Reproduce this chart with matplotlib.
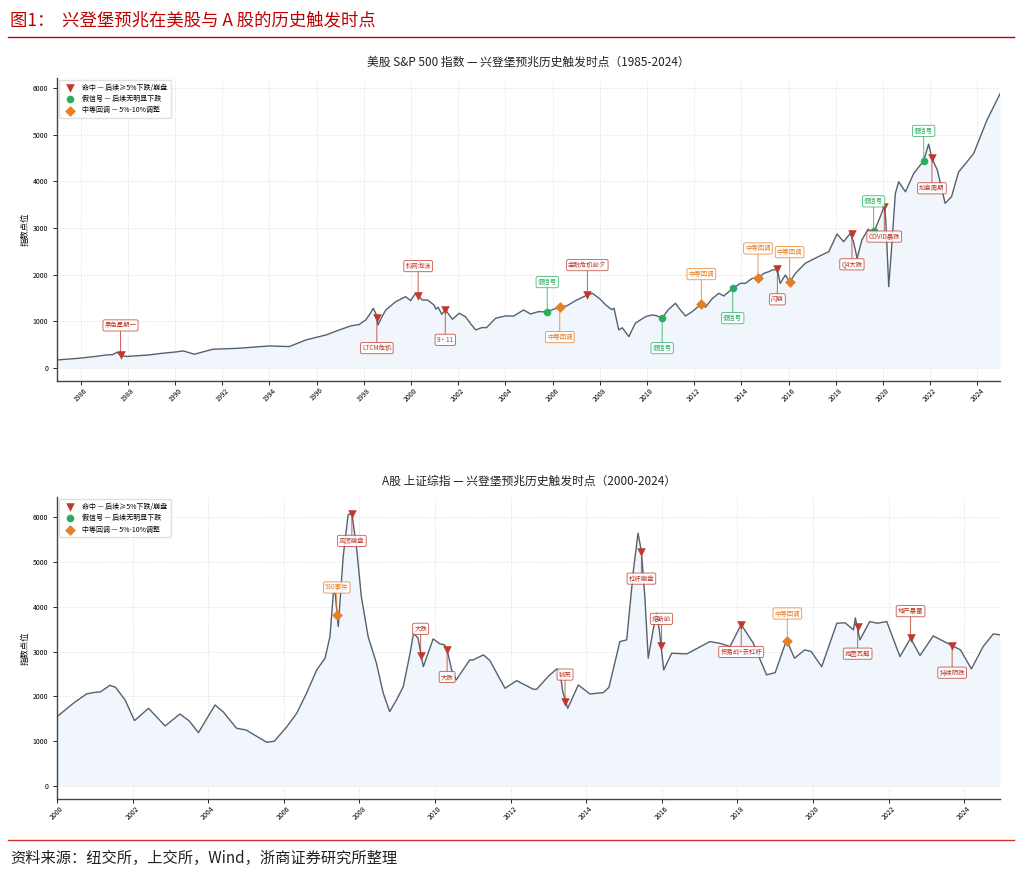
import matplotlib
matplotlib.use("Agg")
import matplotlib.pyplot as plt
from matplotlib.lines import Line2D

plt.rcParams['font.family'] = ['Noto Sans CJK SC', 'DejaVu Sans']
plt.rcParams['axes.unicode_minus'] = False

# --- S&P 500 curve ---
spx_year = [1985.0, 1985.96, 1986.6, 1987.1, 1987.35, 1987.55, 1987.7, 1987.95, 1988.9, 1989.4,
            1990.0, 1990.35, 1990.82, 1991.6, 1992.7, 1994.0, 1994.84, 1995.55, 1996.4, 1996.96,
            1997.45, 1997.8, 1998.08, 1998.25, 1998.4, 1998.52, 1998.6, 1998.75, 1998.93, 1999.35,
            1999.77, 1999.98, 2000.17, 2000.3, 2000.48, 2000.7, 2000.97, 2001.05, 2001.15, 2001.3,
            2001.45, 2001.6, 2001.75, 2002.04, 2002.3, 2002.55, 2002.74, 2003.0, 2003.2, 2003.58,
            2004.0, 2004.35, 2004.77, 2005.06, 2005.4, 2005.77, 2006.05, 2006.3, 2006.6, 2007.0,
            2007.47, 2007.68, 2008.0, 2008.25, 2008.5, 2008.6, 2008.8, 2008.95, 2009.23, 2009.5,
            2009.94, 2010.22, 2010.4, 2010.64, 2010.9, 2011.2, 2011.4, 2011.63, 2011.91, 2012.3,
            2012.47, 2012.75, 2013.04, 2013.25, 2013.63, 2013.96, 2014.17, 2014.45, 2014.7, 2014.95,
            2015.16, 2015.3, 2015.52, 2015.64, 2015.86, 2016.04, 2016.29, 2016.7, 2017.26, 2017.7,
            2018.05, 2018.33, 2018.61, 2018.75, 2018.9, 2019.1, 2019.36, 2019.61, 2019.88, 2020.07,
            2020.13, 2020.24, 2020.35, 2020.52, 2020.66, 2020.95, 2021.3, 2021.72, 2021.93, 2022.07,
            2022.3, 2022.63, 2022.9, 2023.2, 2023.5, 2023.84, 2024.4, 2024.96]
spx_value = [170, 208, 245, 278, 285, 335, 265, 245, 278, 310,
             340, 364, 293, 400, 421, 471, 457, 600, 707, 814,
             900, 930, 1028, 1150, 1278, 1150, 920, 1080, 1242, 1420,
             1527, 1441, 1585, 1542, 1456, 1456, 1349, 1260, 1300, 1150,
             1242, 1150, 1042, 1171, 1100, 930, 814, 864, 864, 1064,
             1113, 1113, 1242, 1156, 1206, 1199, 1260, 1300, 1330, 1450,
             1563, 1600, 1480, 1349, 1250, 1278, 814, 860, 671, 957,
             1100, 1135, 1120, 1064, 1250, 1385, 1250, 1113, 1206, 1370,
             1300, 1480, 1600, 1542, 1706, 1813, 1813, 1920, 1920, 2028,
             2063, 2099, 2110, 1813, 1991, 1841, 2028, 2242, 2385, 2492,
             2870, 2705, 2884, 2700, 2349, 2741, 2970, 2906, 3240, 3490,
             3000, 1741, 2500, 3740, 3990, 3775, 4170, 4440, 4797, 4490,
             4240, 3527, 3670, 4200, 4383, 4597, 5310, 5882]

spx_ev_year = [1987.69, 1998.55, 2000.3, 2001.45, 2005.77, 2006.3, 2007.47, 2010.64, 2012.3,
               2013.63, 2014.7, 2015.52, 2016.04, 2018.68, 2019.6, 2020.05, 2021.72, 2022.07]
spx_ev_value = [270, 1064, 1542, 1242, 1199, 1300, 1563, 1064, 1370,
                1706, 1920, 2110, 1841, 2860, 2930, 3455, 4440, 4490]
spx_ev_type = ['hit', 'hit', 'hit', 'hit', 'false', 'mid', 'hit', 'false', 'mid',
               'false', 'mid', 'hit', 'mid', 'hit', 'false', 'hit', 'false', 'hit']
spx_ev_label = ['黑色星期一', 'LTCM危机', '科网泡沫', '9·11', '假信号', '中等回调', '金融危机前夕', '假信号', '中等回调',
                '假信号', '中等回调', '闪崩', '中等回调', 'Q4大跌', '假信号', 'COVID暴跌', '假信号', '加息周期']
spx_ev_dir = [1, -1, 1, -1, 1, -1, 1, -1, 1, -1, 1, -1, 1, -1, 1, -1, 1, -1]

# --- 上证综指 curve ---
sh_year = [2000.0, 2000.43, 2000.78, 2001.0, 2001.15, 2001.4, 2001.55, 2001.8, 2002.05, 2002.42,
           2002.86, 2003.25, 2003.5, 2003.74, 2004.18, 2004.4, 2004.75, 2005.0, 2005.3, 2005.55,
           2005.75, 2006.08, 2006.34, 2006.6, 2006.87, 2007.09, 2007.22, 2007.31, 2007.36, 2007.44,
           2007.57, 2007.7, 2007.8, 2007.93, 2008.05, 2008.23, 2008.45, 2008.63, 2008.8, 2008.98,
           2009.16, 2009.34, 2009.43, 2009.55, 2009.69, 2009.95, 2010.13, 2010.25, 2010.32, 2010.44,
           2010.56, 2010.92, 2011.0, 2011.28, 2011.45, 2011.85, 2012.16, 2012.6, 2012.69, 2013.0,
           2013.22, 2013.3, 2013.38, 2013.51, 2013.79, 2014.1, 2014.45, 2014.6, 2014.89, 2015.07,
           2015.25, 2015.37, 2015.46, 2015.55, 2015.64, 2015.77, 2015.86, 2015.93, 2016.05, 2016.26,
           2016.66, 2017.27, 2017.55, 2017.8, 2018.1, 2018.42, 2018.77, 2019.0, 2019.3, 2019.51,
           2019.78, 2019.95, 2020.23, 2020.63, 2020.85, 2021.07, 2021.12, 2021.24, 2021.5, 2021.7,
           2021.95, 2022.3, 2022.58, 2022.83, 2023.18, 2023.45, 2023.68, 2023.9, 2024.19, 2024.5,
           2024.77, 2024.95]
sh_value = [1547, 1845, 2054, 2090, 2100, 2247, 2200, 1920, 1458, 1734,
            1339, 1607, 1450, 1190, 1808, 1650, 1288, 1250, 1100, 975,
            1000, 1324, 1622, 2069, 2589, 2850, 3333, 4301, 4300, 3556,
            5118, 6049, 6087, 5268, 4226, 3333, 2738, 2069, 1659, 1920,
            2217, 2962, 3408, 3300, 2662, 3281, 3170, 3150, 3036, 2589,
            2366, 2813, 2810, 2924, 2800, 2180, 2350, 2158, 2158, 2450,
            2612, 2580, 2100, 1734, 2254, 2054, 2083, 2200, 3221, 3259,
            4821, 5640, 5230, 4226, 2850, 3482, 3855, 3500, 2589, 2962,
            2946, 3221, 3180, 3110, 3600, 3185, 2478, 2530, 3259, 2850,
            3036, 3000, 2662, 3631, 3640, 3482, 3750, 3259, 3668, 3630,
            3668, 2887, 3296, 2909, 3348, 3230, 3132, 3036, 2612, 3110,
            3393, 3370]

sh_ev_year = [2007.4, 2007.8, 2009.62, 2010.32, 2013.44, 2015.46, 2015.99, 2018.1, 2019.32,
              2021.18, 2022.58, 2023.68]
sh_ev_value = [3824, 6071, 2902, 3036, 1882, 5230, 3125, 3594, 3244,
               3556, 3296, 3132]
sh_ev_type = ['mid', 'hit', 'hit', 'hit', 'hit', 'hit', 'hit', 'hit', 'mid',
              'hit', 'hit', 'hit']
sh_ev_label = ['530事件', '见顶崩盘', '大跌', '大跌', '钱荒', '杠杆崩盘', '熔断前', '贸易战+去杠杆', '中等回调',
               '抱团瓦解', '地产暴雷', '持续阴跌']
sh_ev_dir = [1, -1, 1, -1, 1, -1, 1, -1, 1, -1, 1, -1]

styles = {
    'hit': dict(marker='v', color='#c0392b', s=38, name='命中 — 后续≥5%下跌/崩盘'),
    'false': dict(marker='o', color='#27ae60', s=30, name='假信号 — 后续无明显下跌'),
    'mid': dict(marker='D', color='#e67e22', s=30, name='中等回调 — 5%-10%调整'),
}

fig = plt.figure(figsize=(10.24, 8.77), dpi=100)

# header / footer
fig.text(0.010, 0.977, '图1：  兴登堡预兆在美股与 A 股的历史触发时点', color='#c00000',
         fontsize=12.5, va='center', ha='left')
fig.add_artist(Line2D([0.008, 0.99], [0.958, 0.958], transform=fig.transFigure,
                      color='#c00000', lw=1))
fig.add_artist(Line2D([0.008, 0.99], [0.042, 0.042], transform=fig.transFigure,
                      color='#d83030', lw=1))
fig.text(0.010, 0.021, '资料来源：纽交所，上交所，Wind，浙商证券研究所整理', color='#222222',
         fontsize=11, va='center', ha='left')


def draw_panel(ax, xs, ys, ev_x, ev_y, ev_t, ev_l, ev_d, title, xlim, ylim, ticks, off):
    ax.fill_between(xs, 0, ys, color='#f0f6fb', lw=0, zorder=1)
    ax.plot(xs, ys, color='#56616e', lw=1.0, zorder=2)
    for kind in ['hit', 'false', 'mid']:
        st = styles[kind]
        px = [x for x, t in zip(ev_x, ev_t) if t == kind]
        py = [y for y, t in zip(ev_y, ev_t) if t == kind]
        ax.scatter(px, py, marker=st['marker'], color=st['color'], s=st['s'],
                   zorder=5, label=st['name'], linewidths=0)
    for x, y, t, lab, d in zip(ev_x, ev_y, ev_t, ev_l, ev_d):
        c = styles[t]['color']
        ax.annotate(lab, xy=(x, y), xytext=(0, d * off), textcoords='offset points',
                    ha='center', va='center', fontsize=4.6, color=c, zorder=6,
                    bbox=dict(boxstyle='round,pad=0.25', fc='white', ec=c, lw=0.6, alpha=0.85),
                    arrowprops=dict(arrowstyle='-', color=c, lw=0.7, alpha=0.8,
                                    shrinkA=0, shrinkB=2))
    ax.set_xlim(*xlim)
    ax.set_ylim(*ylim)
    ax.set_xticks(ticks)
    ax.set_xticklabels([str(t) for t in ticks], rotation=45, fontsize=5)
    ax.set_yticks([0, 1000, 2000, 3000, 4000, 5000, 6000])
    ax.tick_params(axis='y', labelsize=5, length=3, width=0.6)
    ax.tick_params(axis='x', length=3, width=0.6, pad=1)
    ax.grid(True, ls='--', lw=0.5, color='#dddddd', alpha=0.8)
    ax.set_axisbelow(True)
    for sp in ['top', 'right']:
        ax.spines[sp].set_visible(False)
    for sp in ['left', 'bottom']:
        ax.spines[sp].set_color('#444444')
        ax.spines[sp].set_linewidth(1.0)
    ax.set_title(title, fontsize=8.5, pad=9, color='#222222')
    ax.set_ylabel('指数点位', fontsize=6, labelpad=2)
    ax.legend(loc='upper left', fontsize=5, frameon=True, framealpha=0.9,
              edgecolor='#dddddd', borderpad=0.5, handletextpad=0.8,
              labelspacing=0.5, borderaxespad=0.3)


ax1 = fig.add_axes([0.0557, 0.5656, 0.921, 0.3455])
draw_panel(ax1, spx_year, spx_value, spx_ev_year, spx_ev_value, spx_ev_type, spx_ev_label,
           spx_ev_dir, '美股 S&P 500 指数 — 兴登堡预兆历史触发时点（1985-2024）',
           (1985.0, 2024.96), (-280, 6215), list(range(1986, 2025, 2)), 21.5)

ax2 = fig.add_axes([0.0557, 0.0889, 0.921, 0.3444])
draw_panel(ax2, sh_year, sh_value, sh_ev_year, sh_ev_value, sh_ev_type, sh_ev_label,
           sh_ev_dir, 'A股 上证综指 — 兴登堡预兆历史触发时点（2000-2024）',
           (2000.0, 2024.95), (-290, 6446), list(range(2000, 2025, 2)), 19.5)

fig.savefig('out.png', dpi=100)
